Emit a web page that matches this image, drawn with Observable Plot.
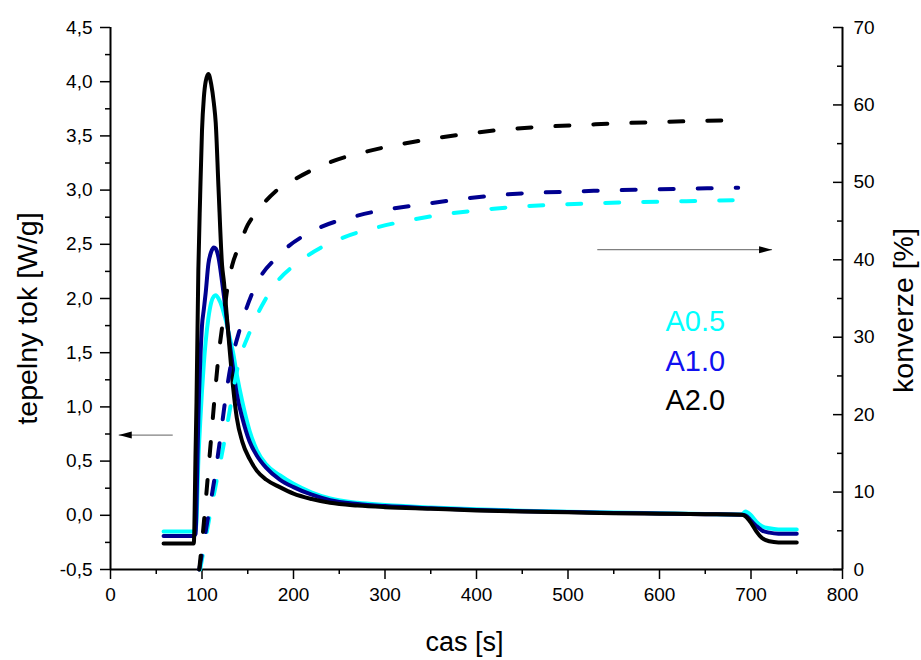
<!DOCTYPE html>
<html><head><meta charset="utf-8">
<script src="https://cdn.jsdelivr.net/npm/d3@7"></script>
<script src="https://cdn.jsdelivr.net/npm/@observablehq/plot@0.6"></script>
<style>
body{margin:0;background:#fff;}
#chart svg{display:block;}
</style></head><body><div id="chart"></div>
<script>
// ---- data ----
const series = ["A0.5", "A1.0", "A2.0"];
const lineColors = ["#00ffff", "#000090", "#000000"];
const legendColors = ["#00ffff", "#1010f0", "#000000"];

// heat flow [W/g] vs time [s]
const heatTime = [58, 91, 93, 94, 96, 98, 100, 102, 104, 107, 110, 113, 115, 118, 122, 124, 126, 130, 134, 138, 144, 152, 160, 170, 185, 200, 220, 240, 270, 300, 350, 400, 450, 500, 550, 600, 650, 690, 694, 700, 706, 712, 720, 730, 750];
const heatA05 = [-0.15, -0.15, -0.14, -0.05, 0.5, 0.85, 1.15, 1.4, 1.6, 1.82, 1.96, 2.02, 2.03, 2.0, 1.92, 1.86, 1.8, 1.65, 1.5, 1.3, 1.05, 0.78, 0.6, 0.47, 0.37, 0.29, 0.21, 0.155, 0.115, 0.095, 0.072, 0.055, 0.042, 0.033, 0.025, 0.018, 0.012, 0.008, 0.035, 0.0, -0.06, -0.1, -0.12, -0.13, -0.13];
const heatA10 = [-0.19, -0.19, -0.17, 0.1, 0.9, 1.4, 1.75, 1.9, 2.05, 2.32, 2.43, 2.47, 2.46, 2.38, 2.15, 2.02, 1.88, 1.6, 1.35, 1.12, 0.9, 0.68, 0.55, 0.44, 0.33, 0.26, 0.19, 0.14, 0.105, 0.085, 0.065, 0.05, 0.038, 0.03, 0.022, 0.016, 0.01, 0.005, 0.0, -0.05, -0.1, -0.14, -0.16, -0.17, -0.17];
const heatA20 = [-0.26, -0.26, 0.6, 1.05, 2.26, 2.95, 3.55, 3.85, 4.0, 4.07, 3.98, 3.8, 3.62, 3.03, 2.3, 2.15, 1.95, 1.55, 1.18, 0.9, 0.68, 0.52, 0.41, 0.33, 0.26, 0.2, 0.15, 0.115, 0.09, 0.075, 0.06, 0.045, 0.035, 0.028, 0.02, 0.015, 0.01, 0.005, -0.01, -0.07, -0.15, -0.21, -0.24, -0.25, -0.25];

// conversion [%] vs time [s]
const convTimeA05 = [98, 107.5, 116, 124, 131, 139, 153, 175, 213, 255, 292, 350, 419, 528, 600, 680];
const convA05 = [0, 6.3, 11.5, 16.3, 21, 26.1, 30.9, 36, 40.3, 42.9, 44.2, 45.6, 46.6, 47.3, 47.5, 47.7];
const convTimeA10 = [97, 106, 114, 120, 125, 131, 141, 156, 186, 226, 270, 350, 419, 528, 600, 686];
const convA10 = [0, 6.3, 12, 17, 21.5, 26.1, 30.9, 36, 40.8, 44, 45.7, 47.3, 48.3, 48.9, 49.1, 49.3];
const convTimeA20 = [97, 102, 106, 110, 114, 118, 124, 128, 133, 140, 150, 160, 180, 200, 240, 284, 350, 420, 530, 600, 674];
const convA20 = [0, 6, 11.5, 17, 22.5, 27.5, 33, 36.5, 39.3, 41.6, 44.5, 46.2, 48.8, 50.3, 52.6, 54.1, 55.6, 56.7, 57.5, 57.8, 58.0];

// axes
const xTicks = [0, 100, 200, 300, 400, 500, 600, 700, 800];
const xMinor = [50, 150, 250, 350, 450, 550, 650, 750];
const yLeftTicks = [-0.5, 0, 0.5, 1, 1.5, 2, 2.5, 3, 3.5, 4, 4.5];
const yLeftMinor = [-0.25, 0.25, 0.75, 1.25, 1.75, 2.25, 2.75, 3.25, 3.75, 4.25];
const yRightTicks = [0, 10, 20, 30, 40, 50, 60, 70];
const yRightMinor = [5, 15, 25, 35, 45, 55, 65];
const xLabel = "cas [s]";
const yLeftLabel = "tepelny tok [W/g]";
const yRightLabel = "konverze [%]";

// annotation arrows (time from, time to, heat-flow level)
const arrowFrom = [68, 532];
const arrowTo = [9, 723];
const arrowLevel = [0.74, 2.45];

// ---- build ----
const leftMin = -0.5, leftMax = 4.5, rightMax = 70;
const toLeft = c => leftMin + c * (leftMax - leftMin) / rightMax;
const fromLeft = y => Math.round((y - leftMin) * rightMax / (leftMax - leftMin));

const heatVals = [heatA05, heatA10, heatA20];
const heatRows = series.flatMap((s, k) => heatTime.map((t, i) => ({s, t, v: heatVals[k][i]})));
const convTimes = [convTimeA05, convTimeA10, convTimeA20];
const convVals = [convA05, convA10, convA20];
const convRows = series.flatMap((s, k) => convTimes[k].map((t, i) => ({s, t, c: convVals[k][i]})));
const arrowRows = arrowFrom.map((f, i) => ({x1: f, x2: arrowTo[i], y: arrowLevel[i], left: arrowTo[i] < f}));

const headLeft = {draw(ctx) { ctx.moveTo(0, 0); ctx.lineTo(13, -3.5); ctx.lineTo(13, 3.5); ctx.closePath(); }};
const headRight = {draw(ctx) { ctx.moveTo(0, 0); ctx.lineTo(-13, -3.5); ctx.lineTo(-13, 3.5); ctx.closePath(); }};

const font = "'Liberation Sans', Arial, sans-serif";
const comma = d => d.toFixed(1).replace(".", ",");

const chart = Plot.plot({
  width: 921, height: 660,
  marginLeft: 110, marginRight: 79, marginTop: 27, marginBottom: 91,
  style: {fontFamily: font, fontSize: "19px", color: "#000", background: "#fff"},
  x: {domain: [0, 800]},
  y: {domain: [leftMin, leftMax]},
  color: {domain: series, range: lineColors},
  marks: [
    Plot.axisX(xTicks, {tickSize: 10, tickPadding: 8, strokeWidth: 1.5, label: null, fontSize: 19, tickFormat: d => String(d)}),
    Plot.axisX(xMinor, {tickSize: 5, strokeWidth: 1.5, fill: "none", label: null}),
    Plot.axisY(yLeftTicks, {anchor: "left", tickSize: 10, tickPadding: 8, strokeWidth: 1.5, label: null, fontSize: 19, tickFormat: comma}),
    Plot.axisY(yLeftMinor, {anchor: "left", tickSize: 5, strokeWidth: 1.5, fill: "none", label: null}),
    Plot.axisY(yRightTicks.map(toLeft), {anchor: "right", tickSize: -10, strokeWidth: 1.5, fill: "none", label: null}),
    Plot.axisY(yRightMinor.map(toLeft), {anchor: "right", tickSize: -6, strokeWidth: 1.5, fill: "none", label: null}),
    Plot.axisY(yRightTicks.map(toLeft), {anchor: "right", tickSize: 0, tickPadding: 11, label: null, fontSize: 19, tickFormat: d => String(fromLeft(d))}),
    Plot.ruleX([0, 800], {stroke: "#000", strokeWidth: 2}),
    Plot.ruleY([leftMin], {stroke: "#000", strokeWidth: 2}),
    Plot.line(heatRows, {x: "t", y: "v", z: "s", stroke: "s", strokeWidth: 4, curve: "monotone-x", strokeLinejoin: "round"}),
    Plot.line(convRows, {x: "t", y: d => toLeft(d.c), z: "s", stroke: "s", strokeWidth: 4, strokeDasharray: "14,24", strokeLinecap: "round", curve: "monotone-x"}),
    Plot.link(arrowRows, {x1: "x1", x2: "x2", y1: "y", y2: "y", stroke: "#808080", strokeWidth: 1.2}),
    Plot.dot(arrowRows.filter(d => d.left), {x: "x2", y: "y", symbol: headLeft, fill: "#000", stroke: "none"}),
    Plot.dot(arrowRows.filter(d => !d.left), {x: "x2", y: "y", symbol: headRight, fill: "#000", stroke: "none"}),
    Plot.text([yLeftLabel], {frameAnchor: "left", textAnchor: "middle", lineAnchor: "middle", dx: -83, dy: 20, rotate: -90, fontSize: 28.5, fill: "#000"}),
    Plot.text([yRightLabel], {frameAnchor: "right", textAnchor: "middle", lineAnchor: "middle", dx: 61, dy: 12, rotate: -90, fontSize: 28.5, fill: "#000"}),
    Plot.text([xLabel], {frameAnchor: "bottom", textAnchor: "middle", dx: -12, dy: 81, lineAnchor: "bottom", fontSize: 27, fill: "#000"}),
    ...series.map((s, k) => Plot.text([s], {frameAnchor: "top-left", dx: 555, dy: [303, 343, 382][k], textAnchor: "start", lineAnchor: "bottom", fontSize: 29, fill: legendColors[k]}))
  ]
});
document.getElementById("chart").appendChild(chart);
</script>
</body></html>
